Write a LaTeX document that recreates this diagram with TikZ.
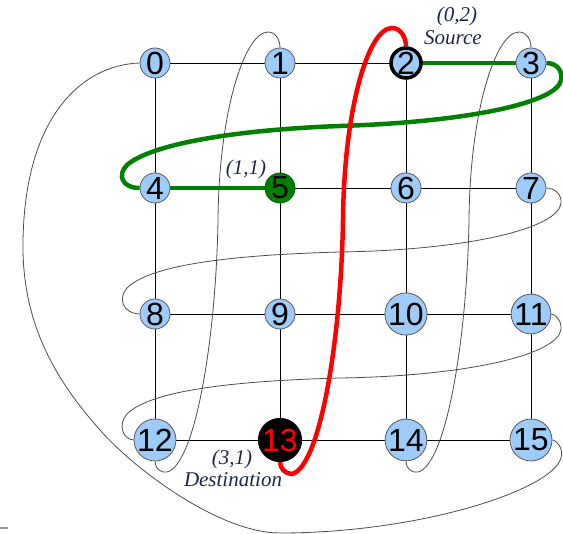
\documentclass[tikz,border=0pt]{standalone}
\usepackage{fontspec}
\setmainfont{Liberation Serif}
\newfontfamily\digitfont{Liberation Sans}
\usetikzlibrary{backgrounds}
\definecolor{nodeblue}{RGB}{158,204,250}
\definecolor{pathgreen}{RGB}{0,128,0}
\definecolor{labelnavy}{RGB}{30,38,70}
\begin{document}
\begin{tikzpicture}[x=1pt,y=-1pt,
  vtx/.style={circle,minimum size=30pt,inner sep=0pt,fill=nodeblue,draw=black!65,line width=0.8pt,
    font=\digitfont\fontsize{32}{32}\selectfont},
  gridline/.style={line width=0.8pt,black},
  wrap/.style={line width=0.8pt,black!70},
  greenpath/.style={line width=4.5pt,pathgreen},
  redpath/.style={line width=4.5pt,red},
  lbl/.style={font=\fontsize{21}{23}\selectfont\itshape,text=labelnavy,inner sep=0pt}]
\useasboundingbox (0,0) rectangle (563,534);
% nodes
\node[vtx] (n0) at (155,63) {0};
\node[vtx] (n1) at (280,63) {1};
\node[vtx,draw=black,line width=3.5pt] (n2) at (406,63) {2};
\node[vtx] (n3) at (531,63) {3};
\node[vtx] (n4) at (155,188) {4};
\node[vtx,fill=pathgreen,draw=pathgreen!70!black] (n5) at (280,188) {5};
\node[vtx] (n6) at (406,188) {6};
\node[vtx] (n7) at (531,188) {7};
\node[vtx] (n8) at (155,314) {8};
\node[vtx] (n9) at (280,314) {9};
\node[vtx] (n10) at (406,314) {10};
\node[vtx] (n11) at (531,314) {11};
\node[vtx] (n12) at (155,440) {12};
\node[vtx,fill=black,draw=black,line width=2pt,text=red] (n13) at (280,440) {13};
\node[vtx] (n14) at (406,440) {14};
\node[vtx] (n15) at (531,440) {15};
% labels
\node[lbl] (l02) at (457,16) {(0,2)};
\node[lbl] (lsrc) at (453,38) {Source};
\node[lbl] (l11) at (246,169) {(1,1)};
\node[lbl] (l31) at (232,459) {(3,1)};
\node[lbl] (ldst) at (233,480) {Destination};
\fill[black!40] (0,527) rectangle (8,529.5);
\begin{pgfonlayer}{background}
% grid
\foreach \a/\b in {0/1,1/2,2/3,4/5,5/6,6/7,8/9,9/10,10/11,12/13,13/14,14/15,
                   0/4,4/8,8/12,1/5,5/9,9/13,2/6,6/10,10/14,3/7,7/11,11/15}
  \draw[gridline] (n\a.center) -- (n\b.center);
% wrap-around links: column ends
\draw[wrap] (n12.south) .. controls (155,468) and (160,473) .. (167,472)
  .. controls (195,465) and (216,340) .. (218,220)
  .. controls (219,110) and (245,32) .. (268,32)
  .. controls (276,32) and (280,40) .. (n1.north);
\draw[wrap] (n14.south) .. controls (406,468) and (411,473) .. (418,472)
  .. controls (446,465) and (467,340) .. (469,220)
  .. controls (470,110) and (496,32) .. (519,32)
  .. controls (527,32) and (531,40) .. (n3.north);
% wrap-around links: row ends
\draw[wrap] (n7.east) .. controls (555,188) and (562,195) .. (561,203)
  .. controls (559,228) and (470,250) .. (340,252)
  .. controls (230,255) and (150,265) .. (127,288)
  .. controls (118,298) and (122,313) .. (n8.west);
\draw[wrap] (n11.east) .. controls (555,314) and (562,321) .. (561,329)
  .. controls (559,354) and (470,376) .. (340,378)
  .. controls (230,381) and (150,391) .. (127,414)
  .. controls (118,424) and (122,439) .. (n12.west);
\draw[wrap] (n15.east) .. controls (556,440) and (564,448) .. (561,458)
  .. controls (552,490) and (420,533) .. (280,533)
  .. controls (220,533) and (135,470) .. (100,430)
  .. controls (60,385) and (24,330) .. (23,250)
  .. controls (22,120) and (80,65) .. (n0.west);
% routes
\draw[greenpath] (n2.center) -- (n3.center);
\draw[greenpath] (n3.east) .. controls (556,63) and (563,70) .. (561,80)
  .. controls (558,102) and (470,122) .. (340,126)
  .. controls (230,130) and (150,145) .. (127,165)
  .. controls (117,175) and (122,188) .. (n4.west);
\draw[greenpath] (n4.center) -- (n5.center);
\draw[redpath] (n13.south) .. controls (280,468) and (285,474) .. (292,474)
  .. controls (320,467) and (341,340) .. (343,220)
  .. controls (344,110) and (368,28) .. (392,28)
  .. controls (401,28) and (406,38) .. (n2.north);
\end{pgfonlayer}
\end{tikzpicture}
\end{document}
